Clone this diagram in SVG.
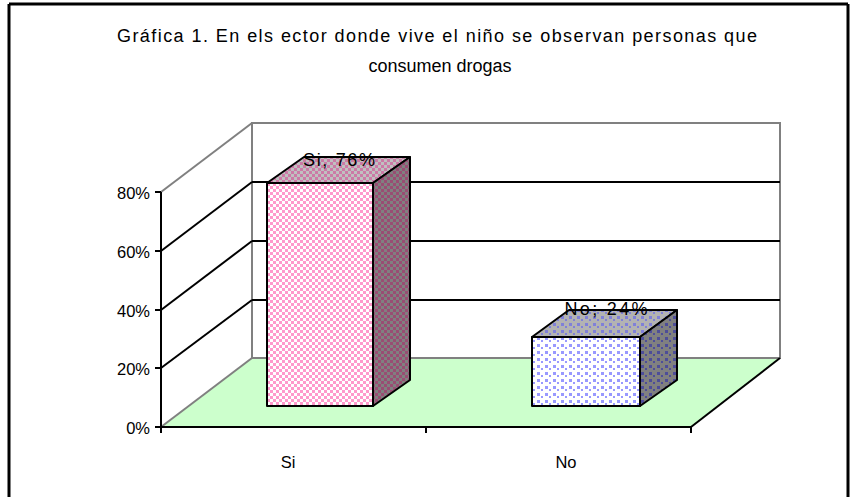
<svg xmlns="http://www.w3.org/2000/svg" width="856" height="497" viewBox="0 0 856 497">
<style>
text{font-family:"Liberation Sans",Arial,sans-serif;font-size:16.5px;fill:#000}
.title{font-size:18px}
.lbl{font-size:18px}
.wall{stroke:#808080;stroke-width:2;fill:none}
.grid{stroke:#000;stroke-width:2;fill:none}
.bar{stroke:#000;stroke-width:2;stroke-linejoin:round}
</style>
<defs>
<pattern id="pinkFront" width="6" height="6" patternUnits="userSpaceOnUse">
<rect width="6" height="6" fill="#fff"/><rect width="3" height="3" fill="#FF99CC"/><rect x="3" y="3" width="3" height="3" fill="#FF99CC"/>
</pattern>
<pattern id="pinkTop" width="6" height="6" patternUnits="userSpaceOnUse">
<rect width="6" height="6" fill="#C0C0C0"/><rect width="3" height="3" fill="#CC7AA6"/><rect x="3" y="3" width="3" height="3" fill="#CC7AA6"/>
</pattern>
<pattern id="pinkSide" width="6" height="6" patternUnits="userSpaceOnUse">
<rect width="6" height="6" fill="#808080"/><rect width="3" height="3" fill="#994D73"/><rect x="3" y="3" width="3" height="3" fill="#994D73"/>
</pattern>
<pattern id="blueFront" width="8" height="7" patternUnits="userSpaceOnUse">
<rect width="8" height="7" fill="#fff"/><rect x="1" y="1" width="3" height="3" fill="#9999FF"/><rect x="5" y="4" width="2" height="2" fill="#9999FF"/>
</pattern>
<pattern id="blueTop" width="8" height="7" patternUnits="userSpaceOnUse">
<rect width="8" height="7" fill="#B3B3B3"/><rect x="1" y="1" width="3" height="3" fill="#8080D9"/><rect x="5" y="4" width="2" height="2" fill="#8080D9"/>
</pattern>
<pattern id="blueSide" width="8" height="7" patternUnits="userSpaceOnUse">
<rect width="8" height="7" fill="#808080"/><rect x="1" y="1" width="3" height="3" fill="#4D4D99"/><rect x="5" y="4" width="2" height="2" fill="#4D4D99"/>
</pattern>
</defs>
<rect width="856" height="497" fill="#fff"/>
<g id="frame">
<line x1="9" y1="4" x2="848" y2="4" stroke="#000" stroke-width="3"/>
<line x1="9" y1="4" x2="9" y2="497" stroke="#000" stroke-width="3"/>
<line x1="848" y1="4" x2="848" y2="497" stroke="#000" stroke-width="3"/>
</g>
<g id="title">
<text class="title" x="437" y="42" text-anchor="middle" textLength="640" lengthAdjust="spacing">Gráfica 1.  En els ector donde vive el niño se observan personas que</text>
<text class="title" x="440" y="72" text-anchor="middle">consumen drogas</text>
</g>
<g id="plot">
<polygon points="161,427 252,358 780,358 691,427" fill="#CCFFCC"/>
<rect x="252" y="123" width="528" height="235" fill="#fff" class="wall"/>
<line class="wall" x1="161" y1="192" x2="252" y2="123"/>
<line class="grid" x1="252" y1="182" x2="780" y2="182"/>
<line class="grid" x1="252" y1="241" x2="780" y2="241"/>
<line class="grid" x1="252" y1="300" x2="780" y2="300"/>
<line class="grid" x1="161" y1="251" x2="252" y2="182"/>
<line class="grid" x1="161" y1="310" x2="252" y2="241"/>
<line class="grid" x1="161" y1="368" x2="252" y2="300"/>
<line class="wall" x1="161" y1="427" x2="252" y2="358"/>
<line class="grid" x1="691" y1="427" x2="780" y2="358"/>
</g>
<g id="axes">
<line class="grid" x1="161" y1="192" x2="161" y2="433"/>
<line class="grid" x1="155" y1="192" x2="161" y2="192"/>
<line class="grid" x1="155" y1="251" x2="161" y2="251"/>
<line class="grid" x1="155" y1="310" x2="161" y2="310"/>
<line class="grid" x1="155" y1="368" x2="161" y2="368"/>
<line class="grid" x1="155" y1="427" x2="161" y2="427"/>
<line class="grid" x1="160" y1="427" x2="692" y2="427"/>
<line class="grid" x1="426" y1="427" x2="426" y2="433"/>
<line class="grid" x1="691" y1="427" x2="691" y2="433"/>
<text x="150" y="199" text-anchor="end">80%</text>
<text x="150" y="258" text-anchor="end">60%</text>
<text x="150" y="317" text-anchor="end">40%</text>
<text x="150" y="375" text-anchor="end">20%</text>
<text x="150" y="434" text-anchor="end">0%</text>
<text x="288" y="468" text-anchor="middle">Si</text>
<text x="566" y="468" text-anchor="middle">No</text>
</g>
<g id="bar-si">
<rect class="bar" x="267" y="183" width="106" height="223" fill="url(#pinkFront)"/>
<polygon class="bar" points="267,183 304,157 410,157 373,183" fill="url(#pinkTop)"/>
<polygon class="bar" points="373,183 410,157 410,380 373,406" fill="url(#pinkSide)"/>
<text class="lbl" x="339" y="166" text-anchor="middle" textLength="72" lengthAdjust="spacing">Si; 76%</text>
</g>
<g id="bar-no">
<rect class="bar" x="532" y="337" width="108" height="69" fill="url(#blueFront)"/>
<polygon class="bar" points="532,337 569,310 677,310 640,337" fill="url(#blueTop)"/>
<polygon class="bar" points="640,337 677,310 677,380 640,406" fill="url(#blueSide)"/>
<text class="lbl" x="606" y="315" text-anchor="middle" textLength="83" lengthAdjust="spacing">No; 24%</text>
</g>
</svg>
